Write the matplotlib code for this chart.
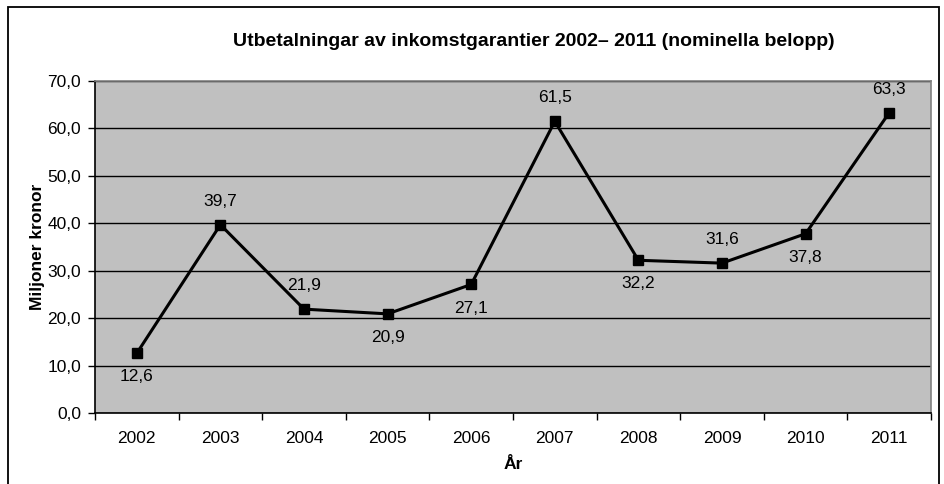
import matplotlib.pyplot as plt
from matplotlib.patches import Rectangle

years = ["2002", "2003", "2004", "2005", "2006", "2007", "2008", "2009", "2010", "2011"]
values = [12.6, 39.7, 21.9, 20.9, 27.1, 61.5, 32.2, 31.6, 37.8, 63.3]
label_pos = ["below", "above", "above", "below", "below", "above", "below", "above", "below", "above"]

plt.rcParams['font.family'] = ['Liberation Sans', 'DejaVu Sans']

W, H = 944, 484
fig = plt.figure(figsize=(W / 100, H / 100), dpi=100, facecolor='white')
ax = fig.add_axes([95 / W, 1 - 413 / H, (931 - 95) / W, (413 - 81) / H])
ax.set_facecolor('#c0c0c0')

x = list(range(len(years)))
ax.plot(x, values, color='black', lw=2.2, marker='s', markersize=7.5, zorder=3)

for xi, v, pos in zip(x, values, label_pos):
    off = 17 if pos == "above" else -17
    ax.annotate("{:.1f}".format(v).replace('.', ','), (xi, v), xytext=(0, off),
                textcoords='offset points', ha='center', va='center', fontsize=12.5)

ax.set_xlim(-0.5, len(years) - 0.5)
ax.set_ylim(0, 70)
ax.set_yticks(range(0, 71, 10))
ax.set_yticklabels(["{:.1f}".format(t).replace('.', ',') for t in range(0, 71, 10)], fontsize=12.5)
ax.set_xticks(x)
ax.set_xticklabels(years, fontsize=12.5)
ax.set_xticks([i - 0.5 for i in range(len(years) + 1)], minor=True)
ax.tick_params(axis='x', which='major', length=0, pad=13)
ax.tick_params(axis='x', which='minor', length=5, width=1, color='black', direction='out')
ax.tick_params(axis='y', length=5, width=1, direction='out', pad=5)

ax.grid(axis='y', color='black', lw=1)
ax.set_axisbelow(True)
for s in ['top', 'right']:
    ax.spines[s].set_color('#808080')
    ax.spines[s].set_linewidth(1.2)
for s in ['left', 'bottom']:
    ax.spines[s].set_color('black')
    ax.spines[s].set_linewidth(1.2)

ax.set_ylabel("Miljoner kronor", fontsize=12.5, fontweight='bold', labelpad=2)
ax.set_xlabel("År", fontsize=12.5, fontweight='bold', labelpad=8)

fig.text(534 / W, 1 - 42 / H, "Utbetalningar av inkomstgarantier 2002– 2011 (nominella belopp)",
         ha='center', va='center', fontsize=14, fontweight='bold')

fig.patches.append(Rectangle((8 / W, -0.05), (939 - 8) / W, 1.05 - 7 / H,
                             transform=fig.transFigure, fill=False, edgecolor='black', lw=1.3))

fig.savefig("out.png", dpi=100)
